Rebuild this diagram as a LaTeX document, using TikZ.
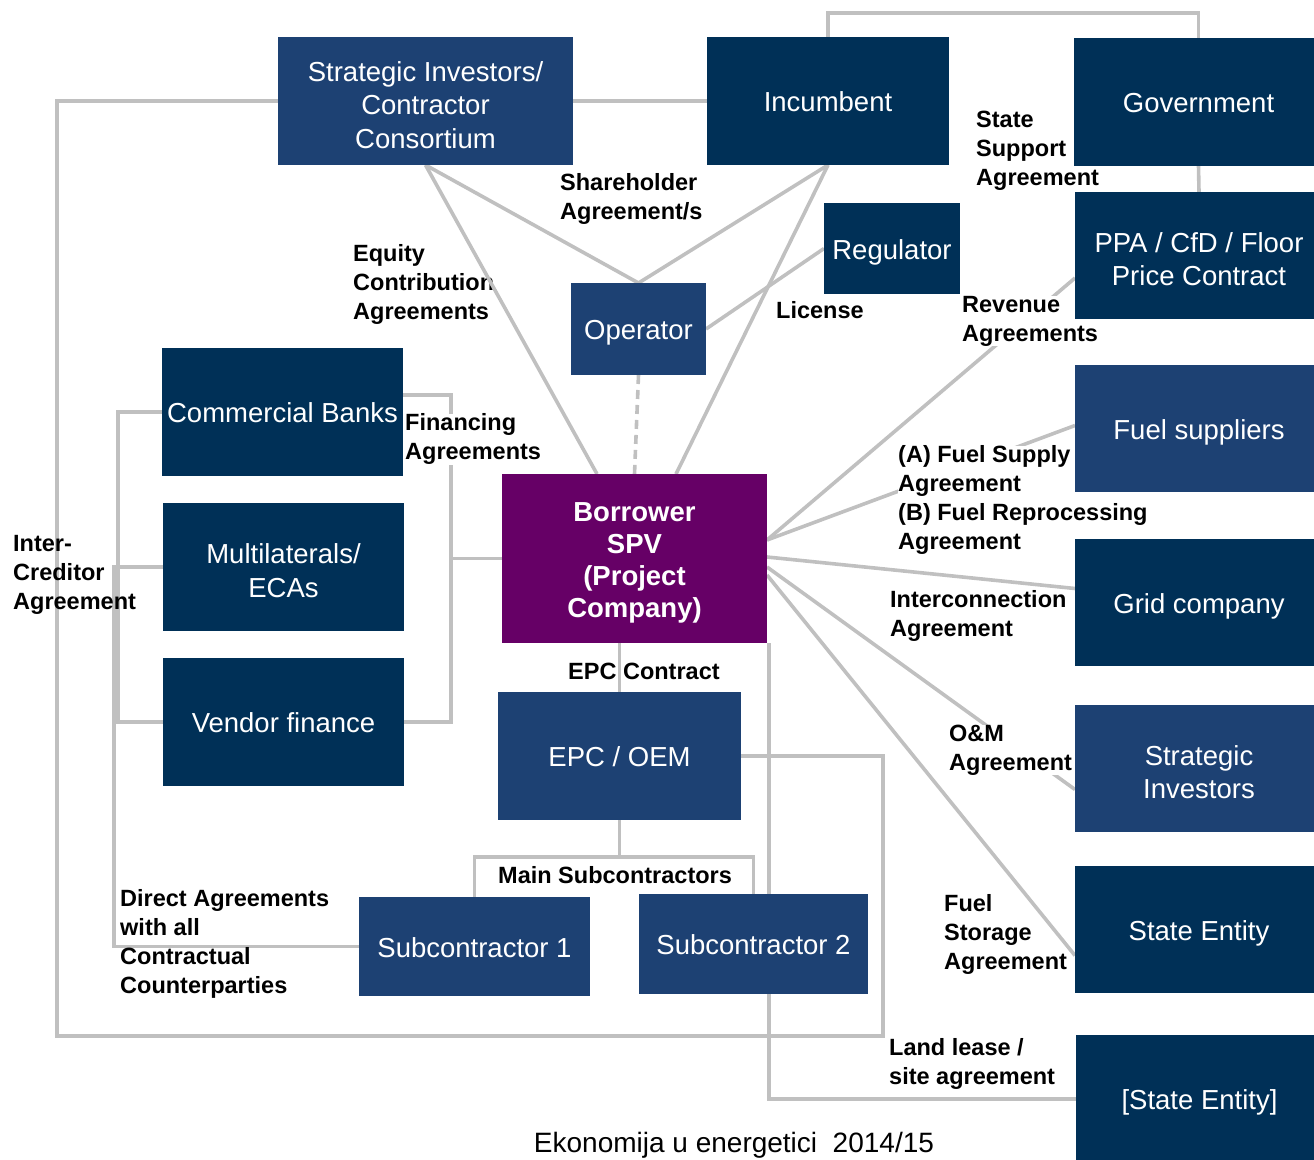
\documentclass[tikz,border=0pt]{standalone}
\usepackage{fontspec}
\setmainfont{Liberation Sans}
\usetikzlibrary{calc}

\pgfdeclarelayer{under}
\pgfdeclarelayer{wires}
\pgfdeclarelayer{notes}
\pgfsetlayers{under,wires,notes,main}

\definecolor{navydark}{RGB}{0,48,87}
\definecolor{navylight}{RGB}{29,65,115}
\definecolor{spvpurple}{RGB}{102,0,102}
\definecolor{wiregray}{RGB}{192,192,192}

% taller first line of a multi-line box, so its text sits a little lower
\newcommand{\boxtop}{\rule{0pt}{1em}}

\begin{document}
\begin{tikzpicture}[x=1pt,y=-1pt,
  box/.style={rectangle, inner sep=1pt, outer sep=0pt, text=white, align=center,
              font=\fontsize{27.5}{33.5}\selectfont},
  % single-line boxes get the same top and bottom struts
  oneline/.style={execute at begin node={\rule{0pt}{1em}},
                  execute at end node={\rule[-0.21em]{0pt}{0.21em}}},
  darkbox/.style={box, fill=navydark},
  lightbox/.style={box, fill=navylight},
  wire/.style={draw=wiregray, line width=3.6pt},
  note/.style={inner sep=0pt, anchor=west, align=left,
               font=\bfseries\fontsize{23.5}{29}\selectfont},
  notefill/.style={note, fill=white},
]
\useasboundingbox (0,0) rectangle (1314,1159);

% ---- parties ----
\node[lightbox, minimum width=295pt, minimum height=128pt] (sic) at (425.5,101) {\boxtop Strategic Investors/\\Contractor\\Consortium};
\node[darkbox, oneline, minimum width=242pt, minimum height=128pt] (inc) at (828,101) {Incumbent};
\node[darkbox, oneline, minimum width=249pt, minimum height=128pt] (gov) at (1198.5,102) {Government};
\node[darkbox, minimum width=248pt, minimum height=127pt] (ppa) at (1199,255.5) {\boxtop PPA / CfD / Floor\\Price Contract};
\node[darkbox, oneline, minimum width=136pt, minimum height=91pt] (reg) at (892,248.5) {Regulator};
\node[lightbox, oneline, minimum width=135pt, minimum height=92pt] (op) at (638.5,329) {Operator};
\node[lightbox, oneline, minimum width=248pt, minimum height=127pt] (fuel) at (1199,428.5) {Fuel suppliers};
\node[darkbox, oneline, minimum width=248pt, minimum height=127pt] (grid) at (1199,602.5) {Grid company};
\node[lightbox, minimum width=248pt, minimum height=127pt] (stinv) at (1199,768.5) {\boxtop Strategic\\Investors};
\node[darkbox, oneline, minimum width=248pt, minimum height=127pt] (state) at (1199,929.5) {State Entity};
\node[darkbox, oneline, minimum width=247pt, minimum height=128pt] (state2) at (1199.5,1099) {[State Entity]};
\node[darkbox, oneline, minimum width=241pt, minimum height=128pt] (cb) at (282.5,412) {Commercial Banks};
\node[darkbox, minimum width=241pt, minimum height=128pt] (mult) at (283.5,567) {\boxtop Multilaterals/\\ECAs};
\node[darkbox, oneline, minimum width=241pt, minimum height=128pt] (vend) at (283.5,722) {Vendor finance};
\node[box, fill=spvpurple, font=\bfseries\fontsize{27.5}{32}\selectfont,
      minimum width=265pt, minimum height=169pt] (spv) at (634.5,558.5) {\boxtop Borrower\\SPV\\(Project\\Company)};
\node[lightbox, oneline, minimum width=243pt, minimum height=128pt] (epc) at (619.5,756) {EPC / OEM};
\node[lightbox, oneline, minimum width=231pt, minimum height=99pt] (sub1) at (474.5,946.5) {Subcontractor 1};
\node[lightbox, oneline, minimum width=229pt, minimum height=100pt] (sub2) at (753.5,944) {Subcontractor 2};

% ---- free corners of the connectors ----
\coordinate (loopA) at (57,1036);
\coordinate (loopB) at (883,1036);
\coordinate (finx) at (451,558.5);
\coordinate (icx) at (118,567);
\coordinate (dacorner) at (114,946.5);
\coordinate (msbar) at (619.5,857);
\coordinate (rA) at ($(spv.north east)+(0,66)$);

% ---- label crossed by a connector ----
\begin{pgfonlayer}{under}
\node[note] (lequity) at (353,284) {Equity\\Contribution\\Agreements};
\end{pgfonlayer}

% ---- connectors ----
\begin{pgfonlayer}{wires}
\draw[wire] (inc.north) -- ++(0,-24) -| (gov.north);
\draw[wire] (sic.east) -- (inc.west);
\draw[wire] (sic.west) -| (loopA) -- (loopB) |- (epc.east);
\draw[wire] (gov.south) -- (ppa.north);
\draw[wire] (sic.south) -- (op.north);
\draw[wire] (inc.south) -- (op.north);
\draw[wire] (sic.south) -- ($(spv.north west)+(95,0)$);
\draw[wire] (inc.south) -- ($(spv.north west)+(174,0)$);
\draw[wire] (op.east) -- (reg.west);
\draw[wire, dash pattern=on 9pt off 6pt] (op.south) -- (spv.north);
\draw[wire] (rA) -- ($(ppa.south west)+(0,-41)$);
\draw[wire] (rA) -- ($(fuel.west)+(0,-3)$);
\draw[wire] ($(spv.north east)+(0,83)$) -- ($(grid.west)+(0,-14)$);
\draw[wire] ($(spv.north east)+(0,93)$) -- ($(stinv.west)+(0,21)$);
\draw[wire] ($(spv.north east)+(0,101)$) -- ($(state.west)+(0,26)$);
\draw[wire] ($(cb.north east)+(0,47)$) -| (finx) |- (vend.east);
\draw[wire] (finx) -- (spv.west);
\draw[wire] (cb.west) -| (icx) |- (vend.west);
\draw[wire] (mult.west) -| (dacorner) -- (sub1.west);
\draw[wire] (epc.north) -- (epc.north |- spv.south);
\draw[wire] (epc.south) -- (msbar);
\draw[wire] (sub1.north) |- (msbar) -| (sub2.north);
\draw[wire] ($(spv.south east)+(2,0)$) |- (state2.west);
\end{pgfonlayer}

% ---- labels that hide the connectors behind them ----
\begin{pgfonlayer}{notes}
\node[notefill] (lrev) at (962,321) {Revenue\\Agreements};
\node[notefill] (lfin) at (405,439) {Financing\\Agreements};
\node[notefill] (lfuel) at (898,500) {(A) Fuel Supply\\Agreement\\(B) Fuel Reprocessing\\Agreement};
\node[notefill] (lom) at (949,750) {O\&M\\Agreement};
\end{pgfonlayer}

% ---- other labels ----
\node[note] (lshare) at (560,199) {Shareholder\\Agreement/s};
\node[note] (lstate) at (976,151) {State\\Support\\Agreement};
\node[note] (llic) at (776,310) {License};
\node[note] (lgrid) at (890,616) {Interconnection\\Agreement};
\node[note] (lstore) at (944,934) {Fuel\\Storage\\Agreement};
\node[note] (lland) at (889,1064) {Land lease /\\site agreement};
\node[note] (lepc) at (568,671) {EPC Contract};
\node[note] (lmain) at (498,875) {Main Subcontractors};
\node[note] (linter) at (13,575) {Inter-\\Creditor\\Agreement};
\node[note] (ldirect) at (120,944) {Direct Agreements\\with all\\Contractual\\Counterparties};

\node[inner sep=0pt, font=\fontsize{28}{32}\selectfont] (foot) at (734,1145) {Ekonomija u energetici\ \ 2014/15};
\end{tikzpicture}
\end{document}
